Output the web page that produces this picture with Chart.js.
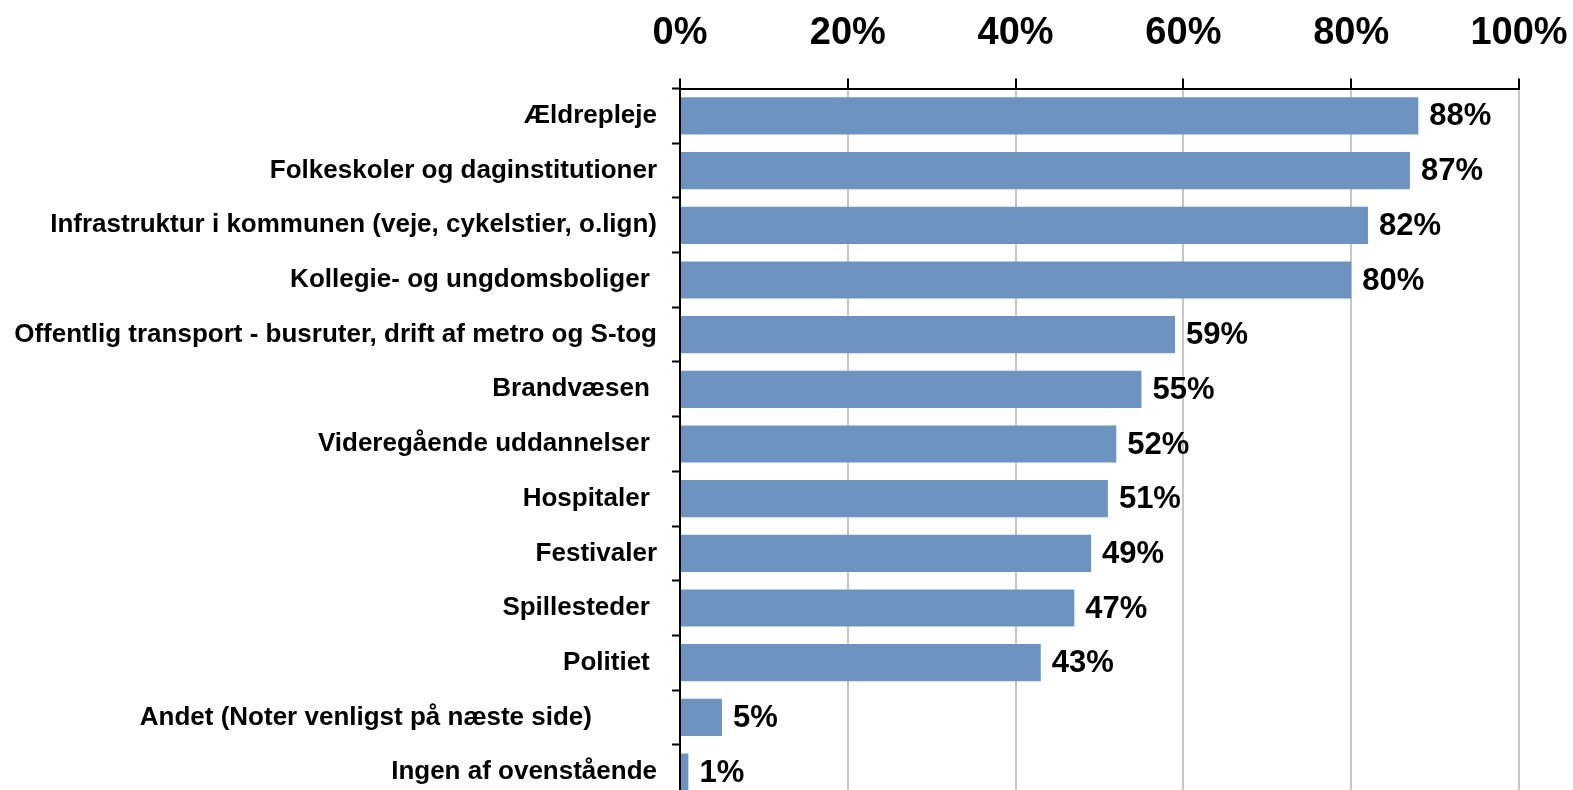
<!DOCTYPE html>
<html>
<head>
<meta charset="utf-8">
<script src="https://cdn.jsdelivr.net/npm/chart.js@4.4.0/dist/chart.umd.min.js"></script>
<style>
  html, body { margin: 0; padding: 0; background: #fff; overflow: hidden; }
  #wrap { position: absolute; left: 0; top: -19px; width: 1573px; height: 849px; }
</style>
</head>
<body>
<div id="wrap"><canvas id="barChart"></canvas></div>
<script>
const categories = [
  'Ældrepleje',
  'Folkeskoler og daginstitutioner',
  'Infrastruktur i kommunen (veje, cykelstier, o.lign)',
  'Kollegie- og ungdomsboliger ',
  'Offentlig transport - busruter, drift af metro og S-tog',
  'Brandvæsen ',
  'Videregående uddannelser ',
  'Hospitaler ',
  'Festivaler',
  'Spillesteder ',
  'Politiet ',
  'Andet (Noter venligst på næste side)         ',
  'Ingen af ovenstående'
];
const shares = [88, 87, 82, 80, 59, 55, 52, 51, 49, 47, 43, 5, 1];
const tickValues = [0, 20, 40, 60, 80, 100];

const FONT = '"Liberation Sans", Arial, sans-serif';

// value labels at the end of each bar
const barValueLabels = {
  id: 'barValueLabels',
  afterDatasetsDraw(chart) {
    const ctx = chart.ctx;
    const meta = chart.getDatasetMeta(0);
    ctx.save();
    ctx.font = 'bold 31px ' + FONT;
    ctx.fillStyle = '#000';
    ctx.textAlign = 'left';
    ctx.textBaseline = 'middle';
    meta.data.forEach((bar, i) => {
      ctx.fillText(shares[i] + '%', bar.x + 11, bar.y + 1);
    });
    ctx.restore();
  }
};

const ctx = document.getElementById('barChart').getContext('2d');
const barChart = new Chart(ctx, {
  type: 'bar',
  data: {
    labels: categories,
    datasets: [{
      data: shares,
      backgroundColor: '#6d94c0',
      borderWidth: 0,
      barPercentage: 0.68,
      categoryPercentage: 1
    }]
  },
  plugins: [barValueLabels],
  options: {
    indexAxis: 'y',
    responsive: true,
    maintainAspectRatio: false,
    animation: false,
    layout: { padding: { top: 8, right: 54, bottom: 0, left: 0 } },
    scales: {
      x: {
        position: 'top',
        min: 0,
        max: 100,
        afterBuildTicks: (scale) => {
          scale.ticks = tickValues.map(v => ({ value: v }));
        },
        afterFit: (scale) => {
          scale.paddingLeft = 0;
          scale.paddingRight = 0;
        },
        ticks: {
          callback: (v) => v + '%',
          color: '#000',
          font: { family: FONT, size: 38, weight: 'bold' },
          padding: 22,
          maxRotation: 0
        },
        grid: {
          color: '#c6c6c6',
          lineWidth: 2,
          tickColor: '#000',
          tickLength: 10,
          tickWidth: 2
        },
        border: { color: '#000', width: 2 }
      },
      y: {
        afterFit: (scale) => { scale.width = 680; },
        ticks: {
          color: '#000',
          font: { family: FONT, size: 26, weight: 'bold' },
          padding: 15,
          autoSkip: false
        },
        grid: {
          drawOnChartArea: false,
          tickColor: '#000',
          tickLength: 8,
          tickWidth: 2
        },
        border: { color: '#000', width: 2 }
      }
    },
    plugins: {
      legend: { display: false },
      tooltip: { enabled: false },
      title: { display: false }
    }
  }
});
</script>
</body>
</html>
